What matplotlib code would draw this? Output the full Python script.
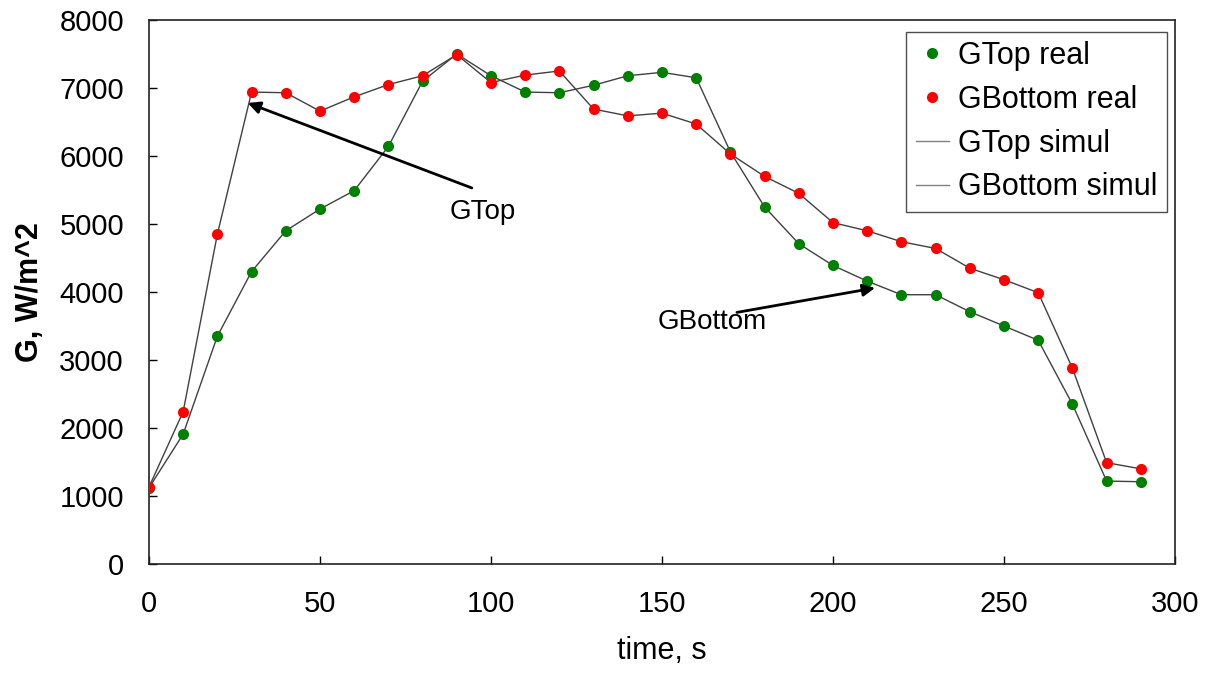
import matplotlib
matplotlib.use('Agg')
import matplotlib.pyplot as plt

plt.rcParams['font.family'] = ['Liberation Sans', 'DejaVu Sans']

# measured irradiance, W/m^2, every 10 s
time_s = [0, 10, 20, 30, 40, 50, 60, 70, 80, 90, 100, 110, 120, 130, 140,
          150, 160, 170, 180, 190, 200, 210, 220, 230, 240, 250, 260, 270, 280, 290]
g_top = [1120, 1910, 3350, 4300, 4900, 5220, 5490, 6140, 7100, 7500, 7180, 6940, 6930, 7040, 7180,
         7230, 7150, 6060, 5250, 4710, 4390, 4160, 3960, 3960, 3710, 3500, 3290, 2350, 1220, 1210]
g_bottom = [1130, 2240, 4850, 6940, 6930, 6660, 6870, 7050, 7180, 7490, 7080, 7190, 7250, 6690, 6590,
            6630, 6470, 6030, 5700, 5450, 5020, 4900, 4740, 4640, 4350, 4180, 3990, 2880, 1490, 1400]

# simulated curves
g_top_sim = g_top
g_bottom_sim = g_bottom

fig = plt.figure(figsize=(12.14, 6.75), dpi=100)
ax = fig.add_axes([0.1227, 0.1644, 0.8452, 0.806])

ax.plot(time_s, g_top, 'o', color='green', markersize=8, markeredgewidth=0, label='GTop real', zorder=3)
ax.plot(time_s, g_bottom, 'o', color='red', markersize=8, markeredgewidth=0, label='GBottom real', zorder=3)
ax.plot(time_s, g_top_sim, '-', color='#404040', linewidth=1, label='GTop simul', zorder=2)
ax.plot(time_s, g_bottom_sim, '-', color='#404040', linewidth=1, label='GBottom simul', zorder=2)

ax.set_xlim(0, 300)
ax.set_ylim(0, 8000)
ax.set_xticks(range(0, 301, 50))
ax.set_yticks(range(0, 8001, 1000))
ax.tick_params(direction='in', length=6, width=1, labelsize=21)
ax.tick_params(axis='x', pad=19)
ax.tick_params(axis='y', pad=18)
for sp in ax.spines.values():
    sp.set_color('#222222')
    sp.set_linewidth(1.2)

ax.set_xlabel('time, s', fontsize=22, labelpad=13)
ax.set_ylabel('G, W/m^2', fontsize=22, fontweight='bold', labelpad=10)

# labels with arrows pointing at the curves
arrow = dict(arrowstyle='-|>', color='black', lw=2, mutation_scale=18, shrinkA=0, shrinkB=0)
ax.annotate('', xy=(28.9, 6780), xytext=(94.4, 5530), arrowprops=arrow)
ax.text(97.7, 5180, 'GTop', fontsize=20, ha='center', va='center')
ax.annotate('', xy=(212.3, 4060), xytext=(171.9, 3700), arrowprops=arrow)
ax.text(164.6, 3560, 'GBottom', fontsize=20, ha='center', va='center')

leg = ax.legend(loc='upper right', bbox_to_anchor=(0.992, 0.978), borderaxespad=0, fontsize=22,
                frameon=True, fancybox=False, edgecolor='#222222', handlelength=1.1,
                handletextpad=0.3, borderpad=0.3, labelspacing=0.45)
leg.get_frame().set_linewidth(1)
for h in leg.legend_handles[2:]:
    h.set_color('#808080')

fig.savefig('out.png', dpi=100)
